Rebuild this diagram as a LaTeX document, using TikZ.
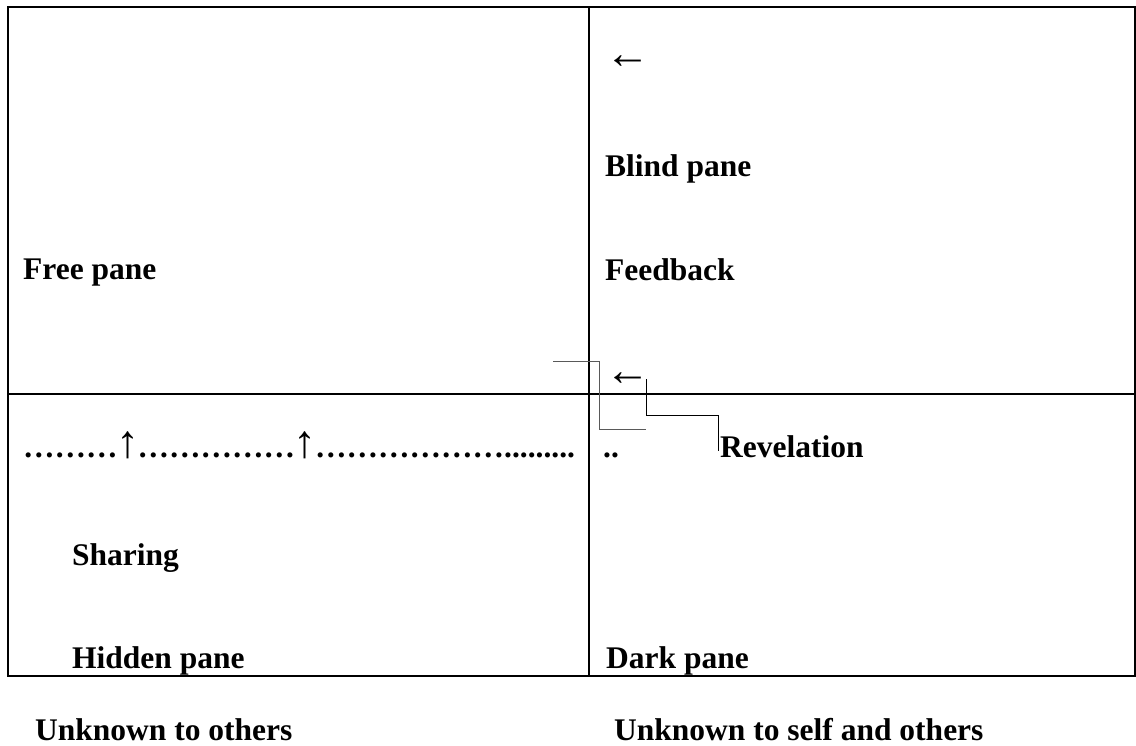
\documentclass[tikz,border=0pt]{standalone}
\usepackage{fontspec}
\setmainfont{Liberation Serif}
\newcommand{\uparr}{\makebox[20pt][c]{\fontsize{46}{46}\selectfont\mdseries ↑}}
\begin{document}
\begin{tikzpicture}[x=1pt,y=-1pt,
  lbl/.style={anchor=base west,inner sep=0pt,font=\fontsize{31.5}{36}\selectfont\bfseries},
  arr/.style={anchor=center,inner sep=0pt,font=\fontsize{45}{45}\selectfont},
  frame/.style={line width=2pt,draw=black},
  conn/.style={line width=1pt,draw=black!65},
  connb/.style={line width=1pt,draw=black}]
\useasboundingbox (0,0) rectangle (1136,745);
% frame and dividers
\draw[frame] (8,7) rectangle (1135,676);
\coordinate (vtop) at (589,7);
\coordinate (vbot) at (589,676);
\coordinate (hl) at (8,394);
\coordinate (hr) at (1135,394);
\draw[frame] (vtop) -- (vbot);
\draw[frame] (hl) -- (hr);
% texts
\node[lbl] (free) at (23,279) {Free pane};
\node[arr] (arr1) at (628,62) {←};
\node[lbl] (blind) at (605,176) {Blind pane};
\node[lbl] (feed) at (605,280) {Feedback};
\node[arr] (arr2) at (628,379) {←};
\node[lbl] (dots) at (23,457) {………\uparr……………\uparr……………….........};
\node[lbl] (dd) at (603,457) {..};
\node[lbl] (rev) at (720,457) {Revelation};
\node[lbl] (share) at (72,565) {Sharing};
\node[lbl] (hidden) at (72,668) {Hidden pane};
\node[lbl] (dark) at (606,668) {Dark pane};
\node[lbl] (unk1) at (35,740) {Unknown to others};
\node[lbl] (unk2) at (614,740) {Unknown to self and others};
% connectors
\coordinate (a0) at (553,361);
\coordinate (a1) at (599,361);
\coordinate (a2) at (599,429);
\coordinate (a3) at (646,429);
\draw[conn] (a0) -- (a1) -- (a2) -- (a3);
\coordinate (b0) at (646,379);
\coordinate (b1) at (646,415);
\coordinate (b2) at (718,415);
\coordinate (b3) at (718,451);
\draw[connb] (b0) -- (b1) -- (b2) -- (b3);
\end{tikzpicture}
\end{document}
